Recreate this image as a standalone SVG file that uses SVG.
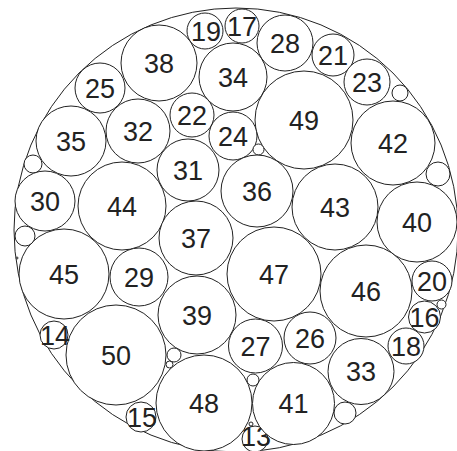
<svg xmlns="http://www.w3.org/2000/svg" width="457" height="451" viewBox="0 0 457 451">
<style>
circle{fill:#fff;stroke:#222;stroke-width:1}
text{font-family:"Liberation Sans",Arial,Helvetica,sans-serif;font-size:27px;fill:#222;text-anchor:middle}
</style>
<rect width="457" height="451" fill="#fff"/>
<g id="outer"><circle cx="236" cy="230" r="222"/></g>
<g id="n38"><circle cx="159" cy="63" r="38"/><text x="159" y="73">38</text></g>
<g id="n19"><circle cx="205" cy="31" r="18"/><text x="206" y="40.5">19</text></g>
<g id="n17"><circle cx="242" cy="26" r="17"/><text x="242" y="35.5">17</text></g>
<g id="n28"><circle cx="285" cy="43" r="28"/><text x="285" y="52.5">28</text></g>
<g id="n21"><circle cx="333" cy="55" r="21"/><text x="333" y="64.5">21</text></g>
<g id="n23"><circle cx="367" cy="82" r="23"/><text x="367" y="91.5">23</text></g>
<g id="s1"><circle cx="400" cy="93" r="8"/></g>
<g id="n49"><circle cx="304" cy="120" r="49"/><text x="304" y="129.5">49</text></g>
<g id="n42"><circle cx="393" cy="143" r="42"/><text x="393" y="152.5">42</text></g>
<g id="s2"><circle cx="438" cy="174" r="12"/></g>
<g id="n34"><circle cx="233" cy="77" r="34"/><text x="233" y="86.5">34</text></g>
<g id="n22"><circle cx="192" cy="115" r="22"/><text x="192" y="124.5">22</text></g>
<g id="n24"><circle cx="233" cy="136" r="24"/><text x="233" y="145.5">24</text></g>
<g id="s3"><circle cx="258.5" cy="149.5" r="5.5"/></g>
<g id="n25"><circle cx="100" cy="88" r="25"/><text x="100" y="97.5">25</text></g>
<g id="n32"><circle cx="138" cy="131" r="32"/><text x="138" y="140.5">32</text></g>
<g id="n35"><circle cx="71" cy="141" r="35"/><text x="71" y="150.5">35</text></g>
<g id="s4"><circle cx="33" cy="164" r="9"/></g>
<g id="n30"><circle cx="45" cy="201" r="30"/><text x="45" y="210.5">30</text></g>
<g id="n44"><circle cx="122" cy="206" r="44"/><text x="122" y="215.5">44</text></g>
<g id="n31"><circle cx="188" cy="170" r="31"/><text x="188" y="179.5">31</text></g>
<g id="n36"><circle cx="257" cy="191" r="36"/><text x="257" y="200.5">36</text></g>
<g id="n37"><circle cx="196" cy="238" r="37"/><text x="196" y="247.5">37</text></g>
<g id="n43"><circle cx="335" cy="207" r="43"/><text x="335" y="216.5">43</text></g>
<g id="n40"><circle cx="417" cy="222" r="40"/><text x="417" y="231.5">40</text></g>
<g id="n20"><circle cx="432" cy="281" r="20"/><text x="432" y="290.5">20</text></g>
<g id="n45"><circle cx="64" cy="274" r="45"/><text x="64" y="283.5">45</text></g>
<g id="s5"><circle cx="25" cy="236" r="10"/></g>
<g id="s6"><circle cx="17" cy="258" r="1"/></g>
<g id="n29"><circle cx="139" cy="277" r="29"/><text x="139" y="286.5">29</text></g>
<g id="n39"><circle cx="197" cy="315" r="39"/><text x="197" y="324.5">39</text></g>
<g id="n50"><circle cx="116" cy="355" r="50"/><text x="116" y="364.5">50</text></g>
<g id="n14"><circle cx="54" cy="335" r="14"/><text x="55" y="344.5">14</text></g>
<g id="n15"><circle cx="141" cy="417" r="15"/><text x="142" y="426.5">15</text></g>
<g id="s7"><circle cx="174" cy="355" r="7"/></g>
<g id="s8"><circle cx="169.5" cy="364.5" r="3.5"/></g>
<g id="n48"><circle cx="204" cy="403" r="48"/><text x="204" y="412.5">48</text></g>
<g id="n27"><circle cx="255.5" cy="346" r="27"/><text x="255.5" y="355.5">27</text></g>
<g id="s9"><circle cx="253" cy="380" r="6"/></g>
<g id="n13"><circle cx="255" cy="439" r="13"/><text x="256" y="445.5">13</text></g>
<g id="s10"><circle cx="251" cy="424" r="2"/></g>
<g id="n41"><circle cx="293.5" cy="403.5" r="41"/><text x="293.5" y="413">41</text></g>
<g id="n26"><circle cx="310" cy="338" r="26"/><text x="310" y="347.5">26</text></g>
<g id="n47"><circle cx="274" cy="274" r="47"/><text x="274" y="283.5">47</text></g>
<g id="n46"><circle cx="366" cy="291" r="46"/><text x="366" y="300.5">46</text></g>
<g id="n16"><circle cx="424.5" cy="317" r="16"/><text x="424.5" y="326.5">16</text></g>
<g id="s11"><circle cx="441.5" cy="304.5" r="4.5"/></g>
<g id="n18"><circle cx="406" cy="346" r="18"/><text x="406" y="355.5">18</text></g>
<g id="n33"><circle cx="361" cy="371.5" r="33"/><text x="361" y="381">33</text></g>
<g id="s12"><circle cx="345" cy="413" r="11"/></g>
</svg>
